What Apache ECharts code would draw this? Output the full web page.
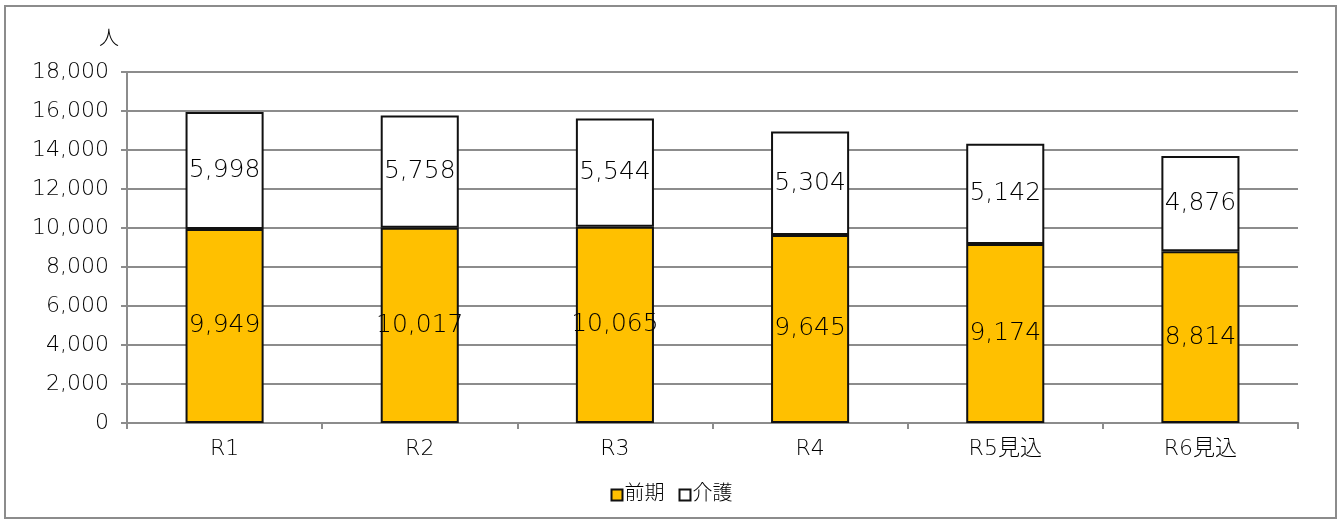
<!DOCTYPE html>
<html>
<head>
<meta charset="utf-8">
<script src="https://cdn.jsdelivr.net/npm/echarts@6/dist/echarts.min.js"></script>
<style>
  html, body { margin: 0; padding: 0; background: #fff; }
  #frame { position: absolute; left: 4px; top: 5px; width: 1333px; height: 514px; border: 2px solid #8c8c8c; box-sizing: border-box; }
  #chart { width: 1343px; height: 522px; position: absolute; left: 0; top: 0; }
</style>
</head>
<body>
<div id="frame"></div>
<div id="chart"></div>
<script>
const categories = ['R1', 'R2', 'R3', 'R4', 'R5見込', 'R6見込'];
const zenki = [9949, 10017, 10065, 9645, 9174, 8814];
const kaigo = [5998, 5758, 5544, 5304, 5142, 4876];
const yTicks = { min: 0, max: 18000, interval: 2000 };

const font = '"DejaVu Sans", "Noto Sans CJK JP", sans-serif';
const weight = 300;
const ink = '#000';
const fmt = v => v.toLocaleString('en-US');

const chart = echarts.init(document.getElementById('chart'));
chart.setOption({
  animation: false,
  textStyle: { fontFamily: font, fontWeight: weight },
  grid: { left: 127, right: 45, top: 72, bottom: 99, containLabel: false },
  legend: {
    bottom: 12, left: 'center',
    itemWidth: 11, itemHeight: 11, itemGap: 14,
    icon: 'rect',
    itemStyle: { borderColor: '#111', borderWidth: 2 },
    textStyle: { fontSize: 20, color: ink, fontFamily: font, fontWeight: weight, padding: [0, 0, 0, -3] },
    data: ['前期', '介護']
  },
  xAxis: {
    type: 'category', data: categories,
    axisLine: { lineStyle: { color: '#8c8c8c', width: 2 } },
    axisTick: { show: true, length: 6, lineStyle: { color: '#8c8c8c', width: 2 } },
    axisLabel: { fontSize: 22, color: ink, margin: 15, fontFamily: font, fontWeight: weight }
  },
  yAxis: {
    type: 'value', min: yTicks.min, max: yTicks.max, interval: yTicks.interval,
    name: '人', nameLocation: 'end', nameGap: 22,
    nameTextStyle: { fontSize: 20, color: ink, align: 'right', padding: [0, 8, 0, 0], fontFamily: font, fontWeight: weight },
    axisLine: { show: true, lineStyle: { color: '#8c8c8c', width: 2 } },
    axisTick: { show: true, length: 6, lineStyle: { color: '#8c8c8c', width: 2 } },
    splitLine: { lineStyle: { color: '#8c8c8c', width: 2 } },
    axisLabel: { fontSize: 22, color: ink, margin: 18, formatter: fmt, fontFamily: font, fontWeight: weight }
  },
  series: [
    {
      name: '前期', type: 'bar', stack: 'total', data: zenki, barWidth: '40%',
      itemStyle: { color: '#ffc000', borderColor: '#111', borderWidth: 2 },
      label: { show: true, position: 'inside', fontSize: 25, color: ink, formatter: p => fmt(p.value), fontFamily: font, fontWeight: weight }
    },
    {
      name: '介護', type: 'bar', stack: 'total', data: kaigo, barWidth: '40%',
      itemStyle: { color: '#ffffff', borderColor: '#111', borderWidth: 2 },
      label: { show: true, position: 'inside', fontSize: 25, color: ink, formatter: p => fmt(p.value), fontFamily: font, fontWeight: weight }
    }
  ]
});
</script>
</body>
</html>
